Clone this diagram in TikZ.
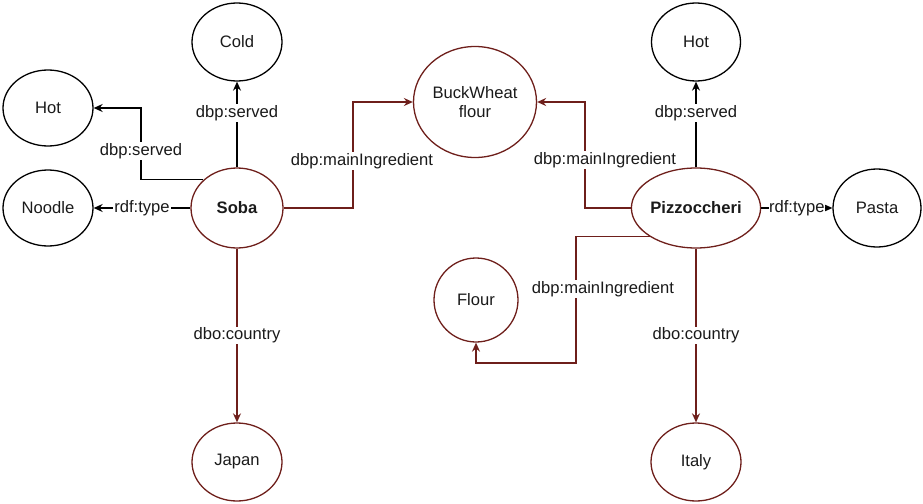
\documentclass[tikz,border=0pt]{standalone}
\usepackage{fontspec}
\setmainfont{Liberation Sans}
\usetikzlibrary{arrows.meta,shapes.geometric}
\definecolor{wine}{HTML}{6E1F1B}
\definecolor{ink}{HTML}{1A1A1A}
\begin{document}
\begin{tikzpicture}[x=1pt,y=-1pt,
  every node/.style={font=\fontsize{16.6}{19.5}\selectfont, text=ink},
  ent/.style={ellipse, draw=black, line width=1.3pt, inner sep=0pt,
              minimum width=90pt, minimum height=78pt, align=center},
  hub/.style={ent, draw=wine, font=\fontsize{16.6}{19.5}\selectfont\bfseries},
  lit/.style={ent, draw=wine},
  lbl/.style={fill=white, inner sep=1pt},
  link/.style={draw=black, line width=1.3pt,
               -{Stealth[length=9pt,width=8pt,inset=3pt]}},
  rlink/.style={link, draw=wine}
]
\useasboundingbox (0,0) rectangle (923,503);

% resources
\node[ent] (cold)   at (237,42)  {Cold};
\node[ent, minimum height=76pt] (hotl) at (48,108) {Hot};
\node[ent, minimum height=76pt] (noodle) at (48,208) {Noodle};
\node[hub, minimum width=92pt, minimum height=80pt] (soba) at (237,208) {Soba};
\node[lit, minimum width=123pt, minimum height=111pt] (buck) at (475,102) {BuckWheat\\flour};
\node[ent, minimum width=89pt] (hotr) at (696,42) {Hot};
\node[hub, minimum width=122pt, minimum height=80pt] (pizz) at (696,208) {Pizzoccheri};
\node[ent, minimum width=88pt] (pasta) at (877,208) {Pasta};
\node[lit, minimum width=84pt, minimum height=84pt] (flour) at (476,300) {Flour};
\node[lit] (japan) at (237,462) {Japan};
\node[lit] (italy) at (696,462) {Italy};

% bend points of the routed connectors
\coordinate (sobaHot)  at (141,108);
\coordinate (sobaBuck) at (353,102);
\coordinate (pizzBuck) at (585,102);
\coordinate (pizzFl)   at (576,363);

% Soba
\draw[link] (soba.north) -- (cold.south);
\node[lbl] at (237,113) {dbp:served};
\draw[link] (soba.140) -| (sobaHot) -- (hotl.east);
\node[lbl] at (141,151) {dbp:served};
\draw[link] (soba.west) -- node[lbl] {rdf:type} (noodle.east);
\draw[rlink] (soba.east) -| (sobaBuck) -- (buck.west);
\node[lbl] at (362,161) {dbp:mainIngredient};
\draw[rlink] (soba.south) -- node[lbl] {dbo:country} (japan.north);

% Pizzoccheri
\draw[link] (pizz.north) -- (hotr.south);
\node[lbl] at (696,113) {dbp:served};
\draw[rlink] (pizz.west) -| (pizzBuck) -- (buck.east);
\node[lbl] at (605,160) {dbp:mainIngredient};
\draw[link] (pizz.east) -- node[lbl, inner sep=0.5pt] {rdf:type} (pasta.west);
\draw[rlink] (pizz.212.5) -| (pizzFl) -| (flour.south);
\node[lbl] at (603,289) {dbp:mainIngredient};
\draw[rlink] (pizz.south) -- node[lbl] {dbo:country} (italy.north);
\end{tikzpicture}
\end{document}
